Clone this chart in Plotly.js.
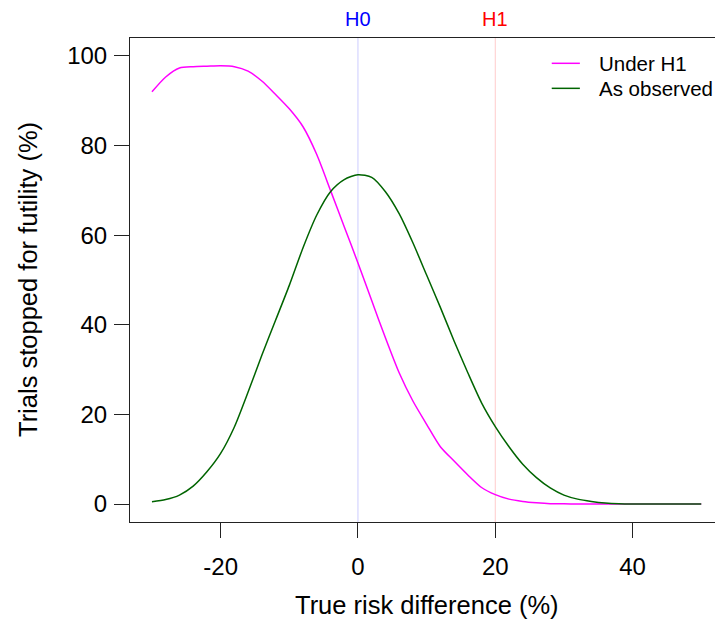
<!DOCTYPE html>
<html>
<head>
<meta charset="utf-8">
<script src="https://cdn.plot.ly/plotly-3.0.1.min.js"></script>
<style>
  html, body { margin: 0; padding: 0; background: #ffffff; }
  #chart { width: 715px; height: 626px; }
</style>
</head>
<body>
<div id="chart"></div>
<script>
// True risk difference (%), evaluated every 2 points
const riskDiff = [-30, -28, -26, -24, -22, -20, -18, -16, -14, -12, -10, -8, -6, -4, -2,
                  0, 2, 4, 6, 8, 10, 12, 14, 16, 18, 20, 22, 24, 26, 28, 30,
                  32, 34, 36, 38, 40, 42, 44, 46, 48, 50];

// Percentage of trials stopped for futility when the design assumes H1
const underH1 = [92.0, 95.3, 97.3, 97.6, 97.7, 97.8, 97.6, 96.6, 94.4, 91.4, 88.2, 84.2, 78.0, 70.0, 61.9,
                 53.8, 45.4, 37.1, 29.3, 23.0, 17.8, 12.8, 9.6, 6.5, 3.7, 2.1, 1.1, 0.6, 0.3, 0.1, 0.05,
                 0, 0, 0, 0, 0, 0, 0, 0, 0, 0];

// Percentage of trials stopped for futility using the observed effect
const asObserved = [0.5, 1.0, 2.0, 4.0, 7.2, 11.3, 17.2, 25.0, 33.2, 41.0, 48.8, 57.2, 64.5, 69.7, 72.4,
                    73.5, 72.9, 69.7, 64.8, 58.3, 51.1, 43.9, 36.4, 29.3, 22.6, 17.3, 12.8, 8.9, 5.9, 3.6, 2.0,
                    1.1, 0.6, 0.25, 0.07, 0, 0, 0, 0, 0, 0];

const seriesNames = ["Under H1", "As observed"];
const seriesColors = ["#ff00ff", "#006400"];

// Reference hypotheses marked on the x axis
const hypLabels = ["H0", "H1"];
const hypValues = [0, 20];
const hypColors = ["#0000ff", "#ff0000"];
const hypLineColors = ["#ccccff", "#ffcccc"];

const xTicks = [-20, 0, 20, 40];
const xTickText = ["-20", "0", "20", "40"];
const yTicks = [0, 20, 40, 60, 80, 100];

const FONT = "Liberation Sans, Arial, sans-serif";

const traces = [underH1, asObserved].map((vals, i) => ({
  type: "scatter",
  mode: "lines",
  x: riskDiff,
  y: vals,
  name: seriesNames[i],
  line: { color: seriesColors[i], width: 1.5, shape: "spline", smoothing: 0.7 },
  showlegend: false,
  hoverinfo: "x+y+name"
}));

const shapes = [];
const annotations = [];

// Vertical reference lines with their labels above the frame
hypValues.forEach((v, i) => {
  shapes.push({
    type: "line", xref: "x", yref: "paper", x0: v, x1: v, y0: 0, y1: 1,
    line: { color: hypLineColors[i], width: 1 }, layer: "below"
  });
  annotations.push({
    xref: "x", yref: "paper", x: v, y: 1, yshift: 19,
    xanchor: "center", yanchor: "middle", showarrow: false,
    text: hypLabels[i], font: { family: FONT, size: 20, color: hypColors[i] }
  });
});

// Legend keys in the upper right corner
const legendY = [0.9477, 0.896];
seriesNames.forEach((name, i) => {
  shapes.push({
    type: "line", xref: "paper", yref: "paper",
    x0: 0.7209, x1: 0.769, y0: legendY[i], y1: legendY[i],
    line: { color: seriesColors[i], width: 1.5 }
  });
  annotations.push({
    xref: "paper", yref: "paper", x: 0.798, y: legendY[i],
    xanchor: "left", yanchor: "middle", showarrow: false,
    text: name, font: { family: FONT, size: 20.5, color: "#000000" }
  });
});

// Axis titles
annotations.push({
  xref: "paper", yref: "paper", x: 0.507, y: 0, yshift: -83,
  xanchor: "center", yanchor: "middle", showarrow: false,
  text: "True risk difference (%)", font: { family: FONT, size: 25.5, color: "#000000" }
});
annotations.push({
  xref: "paper", yref: "paper", x: 0, xshift: -102, y: 0.5,
  xanchor: "center", yanchor: "middle", showarrow: false, textangle: -90,
  text: "Trials stopped for futility (%)", font: { family: FONT, size: 25.5, color: "#000000" }
});

const layout = {
  width: 715,
  height: 626,
  margin: { l: 130, r: 0, t: 38, b: 104, pad: 0 },
  paper_bgcolor: "#ffffff",
  plot_bgcolor: "#ffffff",
  font: { family: FONT, color: "#000000" },
  showlegend: false,
  xaxis: {
    range: [-33.2, 52.0],
    tickmode: "array",
    tickvals: xTicks,
    ticktext: xTickText,
    ticks: "outside",
    ticklen: 15,
    tickwidth: 1,
    tickcolor: "#222222",
    ticklabelstandoff: 8,
    tickfont: { family: FONT, size: 24, color: "#000000" },
    showgrid: false,
    zeroline: false,
    showline: true,
    linecolor: "#222222",
    linewidth: 1,
    mirror: true
  },
  yaxis: {
    range: [-4, 104],
    tickmode: "array",
    tickvals: yTicks,
    ticks: "outside",
    ticklen: 15,
    tickwidth: 1,
    tickcolor: "#222222",
    ticklabelstandoff: 2,
    tickfont: { family: FONT, size: 24, color: "#000000" },
    showgrid: false,
    zeroline: false,
    showline: true,
    linecolor: "#222222",
    linewidth: 1,
    mirror: false
  },
  shapes: shapes,
  annotations: annotations
};

Plotly.newPlot("chart", traces, layout, { displayModeBar: false, staticPlot: true });
</script>
</body>
</html>
